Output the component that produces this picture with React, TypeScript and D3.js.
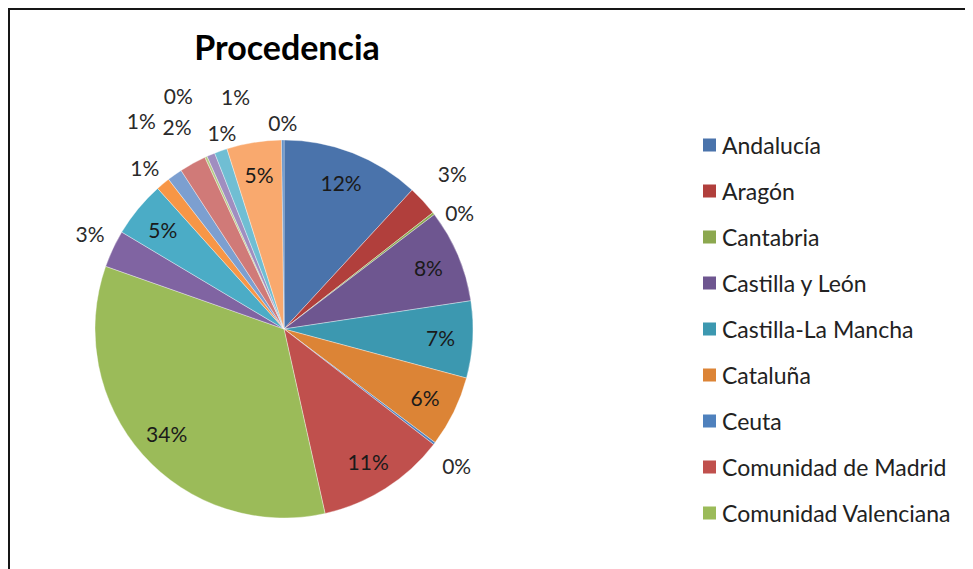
import React from "react";
import * as d3 from "d3";

const title = "Procedencia";
const categories = [
  "Andalucía",
  "Aragón",
  "Cantabria",
  "Castilla y León",
  "Castilla-La Mancha",
  "Cataluña",
  "Ceuta",
  "Comunidad de Madrid",
  "Comunidad Valenciana",
  "Extremadura",
  "Galicia",
  "Islas Baleares",
  "Islas Canarias",
  "La Rioja",
  "Melilla",
  "Navarra",
  "País Vasco",
  "Principado de Asturias",
  "Región de Murcia",
];
const values = [11.9, 2.6, 0.2, 8.0, 6.6, 6.1, 0.2, 11.1, 34.0, 3.2, 4.8, 1.2, 1.3, 2.3, 0.2, 0.7, 1.1, 4.7, 0.2];
const colors = [
  "#4A73AB", "#B13F3C", "#8CA84F", "#6E5690", "#3C98B0", "#DC8436",
  "#4F81BD", "#C0504D", "#9BBB59", "#8064A2", "#4BACC6", "#F79646",
  "#7C9FD0", "#D07A78", "#B3CC83", "#A08EC0", "#70BED3", "#F9A96E", "#5B8CC6",
];
const legendCount = 9;

// label layout: null = inside; otherwise [extra radius, angle shift in degrees]
const labelLayout: (null | [number, number])[] = [
  null, [40, 0], [22, 4], null, null, null, [31, 1], null, null,
  [27, 1], null, [24, -1], [64, 1], [40, 1], [67, 0], [49, 11], [17, 2], null, [18, 0],
];

const cx = 284, cy = 329, R = 189;
const FONT = "Lato, 'Open Sans', sans-serif";

export default function App() {
  const total = d3.sum(values);
  const pie = d3.pie<number>().sort(null).value((d) => d);
  const arcs = pie(values);
  const arc = d3.arc<d3.PieArcDatum<number>>().innerRadius(0).outerRadius(R);

  const legendY = d3.scaleLinear().domain([0, legendCount - 1]).range([145, 513]);

  return (
    <svg width={965} height={561} style={{ display: "block" }}>
      <g transform="translate(-8,-8)">
        <rect x={0} y={0} width={1000} height={600} fill="#fff" />
        <rect x={9} y={9} width={2000} height={2000} fill="none" stroke="#161616" strokeWidth={2} />
        <text x={287} y={60} textAnchor="middle" fontFamily={FONT} fontWeight={700} fontSize={34} fill="#000">
          {title}
        </text>
        <g transform={`translate(${cx},${cy})`}>
          {arcs.map((a, i) => (
            <path key={i} d={arc(a) || ""} fill={colors[i]} stroke="#ffffff" strokeOpacity={0.45} strokeWidth={0.8} />
          ))}
          {arcs.map((a, i) => {
            const lay = labelLayout[i];
            const mid = (a.startAngle + a.endAngle) / 2;
            let r: number, ang: number;
            if (lay === null) {
              r = R * 0.83;
              ang = mid;
            } else {
              r = R + lay[0];
              ang = mid + (lay[1] * Math.PI) / 180;
            }
            const x = Math.sin(ang) * r;
            const y = -Math.cos(ang) * r;
            const pct = Math.round((values[i] / total) * 100) + "%";
            return (
              <text key={"l" + i} x={x} y={y} textAnchor="middle" dominantBaseline="central"
                fontFamily={FONT} fontSize={21} fill={lay === null ? "#1a1a1a" : "#2a2a2a"}>
                {pct}
              </text>
            );
          })}
        </g>
        <g>
          {categories.slice(0, legendCount).map((c, i) => (
            <g key={c} transform={`translate(703,${legendY(i)})`}>
              <rect x={0} y={-6.5} width={13} height={13} fill={colors[i]} />
              <text x={19} y={0} dominantBaseline="central" fontFamily={FONT} fontSize={23} fill="#222">
                {c}
              </text>
            </g>
          ))}
        </g>
      </g>
    </svg>
  );
}
